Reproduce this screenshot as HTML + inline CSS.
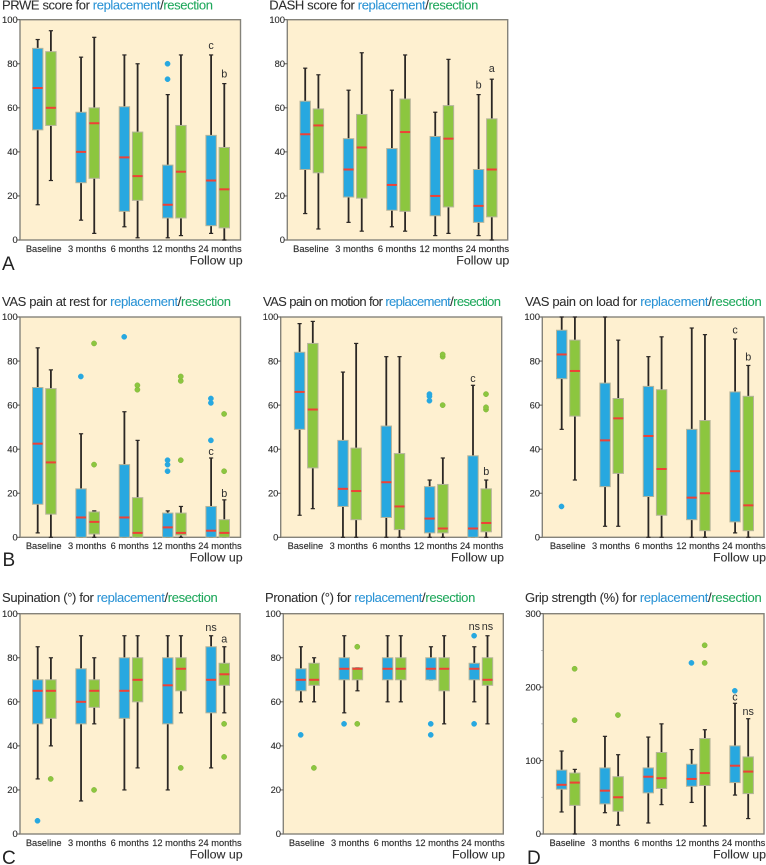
<!DOCTYPE html>
<html lang="en">
<head>
<meta charset="utf-8">
<title>Outcome scores for replacement and resection</title>
<style>
html,body{margin:0;padding:0;background:#fff;width:766px;height:865px;overflow:hidden}
svg{display:block}
text{font-family:"Liberation Sans",Arial,sans-serif;fill:#2e2e2e}
.title{font-size:13px;stroke:#2e2e2e;stroke-width:0.08px}
.rep{fill:#2a93d5;stroke:#2a93d5}
.res{fill:#1fa85c;stroke:#1fa85c}
.follow{font-size:12.4px;text-anchor:end;stroke:#2e2e2e;stroke-width:0.1px}
.letter{font-size:19px;fill:#222}
.tick{font-size:9.4px;text-anchor:end;stroke:#2e2e2e;stroke-width:0.12px}
.cat{font-size:9.3px;text-anchor:middle;stroke:#2e2e2e;stroke-width:0.15px}
.note{font-size:10.8px;text-anchor:middle}
</style>
</head>
<body>
<svg id="figure" xmlns="http://www.w3.org/2000/svg" width="766" height="865" viewBox="0 0 766 865">
  <text class="title" x="2" y="9.5" textLength="211">PRWE score for <tspan class="rep">replacement</tspan>/<tspan class="res">resection</tspan></text>
  <text class="title" x="269.3" y="9.5" textLength="209">DASH score for <tspan class="rep">replacement</tspan>/<tspan class="res">resection</tspan></text>
  <text class="title" x="2" y="306" textLength="229">VAS pain at rest for <tspan class="rep">replacement</tspan>/<tspan class="res">resection</tspan></text>
  <text class="title" x="263" y="306" textLength="238">VAS pain on motion for <tspan class="rep">replacement</tspan>/<tspan class="res">resection</tspan></text>
  <text class="title" x="525" y="306" textLength="236.7">VAS pain on load for <tspan class="rep">replacement</tspan>/<tspan class="res">resection</tspan></text>
  <text class="title" x="2" y="602" textLength="215.7">Supination (°) for <tspan class="rep">replacement</tspan>/<tspan class="res">resection</tspan></text>
  <text class="title" x="265" y="602" textLength="210.3">Pronation (°) for <tspan class="rep">replacement</tspan>/<tspan class="res">resection</tspan></text>
  <text class="title" x="525" y="602" textLength="236.7">Grip strength (%) for <tspan class="rep">replacement</tspan>/<tspan class="res">resection</tspan></text>

  <text class="follow" x="242.7" y="264.5">Follow up</text>
  <text class="follow" x="509.3" y="264.5">Follow up</text>
  <text class="follow" x="242.7" y="561.5">Follow up</text>
  <text class="follow" x="504" y="561.5">Follow up</text>
  <text class="follow" x="766" y="561.5">Follow up</text>
  <text class="follow" x="242.7" y="858.5">Follow up</text>
  <text class="follow" x="505" y="858.5">Follow up</text>
  <text class="follow" x="766" y="858.5">Follow up</text>

  <text class="letter" x="2" y="270">A</text>
  <text class="letter" x="2.5" y="566">B</text>
  <text class="letter" x="2" y="864">C</text>
  <text class="letter" x="527" y="864">D</text>
</svg>
<script>
// Shared axis labels
var categories = ['Baseline', '3 months', '6 months', '12 months', '24 months'];
var percentTicks = [0, 20, 40, 60, 80, 100];
var gripTicks = [0, 100, 200, 300];
var gripMinorTicks = [50, 150, 250];

// Each row: [whisker low, Q1, median, Q3, whisker high], one row per follow-up
var prweReplacement = [[16,50,69,87,91],[9,26,40,58,83],[6,13,37.5,60.5,84],[1,10,16,34,66],[3,6.5,27,47.5,84]];
var prweResection = [[27,52,60,85.5,95],[3,28,53,60,92],[1,18,29,49,80],[2,10,31,52,84],[0,5.5,23,42,71]];
var prweReplacementOutliers = [[],[],[],[73,80],[]];
var prweResectionOutliers = [[],[],[],[],[]];
var prweNotes = [[4,0,86.8,'c'],[4,1,73.8,'b']];

var dashReplacement = [[12,32,48,63,78],[8,19.5,32,46,68],[6,13.5,25,41.5,68],[2,11,20,47,58],[2,8,15.5,32,66]];
var dashResection = [[5,30.5,52,59.5,75],[4,19,42,57,85],[4,13,49,64,84],[3,15,46,61,82],[0,10.5,32,55,73]];
var dashReplacementOutliers = [[],[],[],[],[]];
var dashResectionOutliers = [[],[],[],[],[]];
var dashNotes = [[4,0,68.8,'b'],[4,1,76.3,'a']];

var restReplacement = [[2,15,42.5,68,86],[0,0,9,22,47],[0,0,9,33,57],[0,0,4.5,11,12],[0,0,3,14,36]];
var restResection = [[0,10.5,34,67.5,76],[0,1.5,7,11.5,12],[0,0,2,18,44],[0,1,2,11,14],[0,0,2,8,17]];
var restReplacementOutliers = [[],[73],[91],[30,33,35],[44,61,63]];
var restResectionOutliers = [[],[33,88],[67,69],[35,71,73],[30,56]];
var restNotes = [[4,0,37.3,'c'],[4,1,18.3,'b']];

var motionReplacement = [[10,49,66,84,97],[0,14,22,44,75],[0,9,25,50.5,82],[0,2,8.5,23,26],[0,0,4,37,69]];
var motionResection = [[13,31.5,58,88,98],[0,8,21,40.5,88],[0,3.5,14,38,82],[0,2,4,24,36],[0,2.5,6.5,22,26]];
var motionReplacementOutliers = [[],[],[],[62,64,65],[]];
var motionResectionOutliers = [[],[],[],[60,82,83],[58,59,65]];
var motionNotes = [[4,0,70.6,'c'],[4,1,28.3,'b']];

var loadReplacement = [[49,72,83,94,100],[5,23,44,70,100],[0,18.5,46,68.5,82],[0,8,18,49,95],[2,7,30,66,90]];
var loadResection = [[26,55,75.5,89.5,100],[5,29,54,63,89.5],[0,10,31,67,91],[0,3,20,53,92],[0,3,14.5,64,78]];
var loadReplacementOutliers = [[14],[],[],[],[]];
var loadResectionOutliers = [[],[],[],[],[]];
var loadNotes = [[4,0,92.6,'c'],[4,1,80.3,'b']];

var supinationReplacement = [[25,50,65,70,85],[15,50,60,75,90],[20,52.5,65,80,90],[20,50,67.5,80,90],[30,55,70,85,90]];
var supinationResection = [[40,52.5,65,70,80],[50,57.5,65,70,80],[30,60,70,80,90],[55,65,75,80,90],[55,67.5,72.5,77.5,85]];
var supinationReplacementOutliers = [[6],[],[],[],[]];
var supinationResectionOutliers = [[25],[20],[],[30],[35,50]];
var supinationNotes = [[4,0,92.2,'ns'],[4,1,86.9,'a']];

var pronationReplacement = [[60,65,70,75,85],[55,70,75,80,90],[60,70,75,80,90],[70,70,75,80,85],[60,70,75,77.5,85]];
var pronationResection = [[60,67.5,70,77.5,80],[65,70,75,75.5,75.5],[60,70,75,80,90],[50,65,75,80,90],[50,67.5,70,80,90]];
var pronationReplacementOutliers = [[45],[50],[],[45,50],[50,90]];
var pronationResectionOutliers = [[30],[50,85],[],[],[]];
var pronationNotes = [[4,0,92.6,'ns'],[4,1,92.6,'ns']];

var gripReplacement = [[30,61,67,87,113],[29,41,59,90,133],[15,56,78,90,132],[43,65,75,95,115],[53,70,93,120,178]];
var gripResection = [[0,39,70,83,88],[12,31,50,78,108],[40,62,76,111,150],[11,66,83,130,142],[21,55,85,105,157]];
var gripReplacementOutliers = [[],[],[],[233],[195]];
var gripResectionOutliers = [[155,225],[162],[],[233,257],[]];
var gripNotes = [[4,0,181.8,'c'],[4,1,161.8,'ns']];

var SVG_NS = 'http://www.w3.org/2000/svg';
var figure = document.getElementById('figure');

function make(parent, tag, attrs, content) {
  var el = document.createElementNS(SVG_NS, tag);
  for (var key in attrs) { el.setAttribute(key, attrs[key]); }
  if (content !== undefined) { el.textContent = content; }
  parent.appendChild(el);
  return el;
}

function drawPanel(p) {
  var height = p.bottom - p.top;
  var yScale = function (v) { return p.bottom - (v / p.max) * height; };
  var groupX = function (g) { return p.left + p.first + g * 43.35; };
  var seriesX = function (g, s) { return groupX(g) + (s === 0 ? -6.6 : 6.6); };
  var labelX = function (g) {
    return p.left + 23.7 + p.labelShift + g * 43.4 + (g === 2 ? -0.8 : 0) + (g === 4 ? 2.7 : 0);
  };

  var group = make(figure, 'g', {});
  
  

  var frame = make(group, 'rect', { x: p.left, y: p.top, width: p.right - p.left, height: height, fill: '#fef0d0', stroke: '#85837a', 'stroke-width': 1.4 });
  
  

  p.ticks.forEach(function (t) {
    var mark = make(group, 'line', { x1: p.left - 3, x2: p.left, y1: yScale(t), y2: yScale(t), stroke: '#5c5a54', 'stroke-width': 1 });
    
    
    var label = make(group, 'text', { class: 'tick', x: p.left - 2.3, y: yScale(t) + 3.2 }, t);
    
    
  });
  (p.minorTicks || []).forEach(function (t) {
    var minor = make(group, 'line', { x1: p.left - 2, x2: p.left, y1: yScale(t), y2: yScale(t), stroke: '#999', 'stroke-width': 0.8 });
    
    
  });

  categories.forEach(function (c, g) {
    var cat = make(group, 'text', { class: 'cat', x: labelX(g), y: p.bottom + 11.8 }, c);
    
    
  });

  [[p.replacement, p.replacementOutliers, '#27a8e0', '#27a8e0'],
   [p.resection, p.resectionOutliers, '#8cc63f', '#7fb23a']].forEach(function (series, s) {
    series[0].forEach(function (st, g) {
      var x = seriesX(g, s);
      var whisker = make(group, 'line', { x1: x, x2: x, y1: yScale(st[0]), y2: yScale(st[4]), stroke: '#2b2724', 'stroke-width': 1.8 });
      
      
      [st[0], st[4]].forEach(function (v) {
        var cap = make(group, 'line', { x1: x - 2.1, x2: x + 2.1, y1: yScale(v), y2: yScale(v), stroke: '#2b2724', 'stroke-width': 1.2 });
        
        
      });
      var box = make(group, 'rect', { x: x - 5.2, y: yScale(st[3]), width: 10.4, height: yScale(st[1]) - yScale(st[3]), fill: series[2], stroke: '#b5b49a', 'stroke-width': 1 });
      
      
      var median = make(group, 'line', { x1: x - 5, x2: x + 5, y1: yScale(st[2]), y2: yScale(st[2]), stroke: '#ef4136', 'stroke-width': 2 });
      
      
      series[1][g].forEach(function (v) {
        var dot = make(group, 'circle', { cx: x - 0.2, cy: yScale(v), r: 2.6, fill: series[2], stroke: series[3], 'stroke-width': 0.5 });
        
        
      });
    });
  });

  p.notes.forEach(function (n) {
    var note = make(group, 'text', { class: 'note', x: seriesX(n[0], n[1]), y: yScale(n[2]) }, n[3]);
    
    
  });
}

drawPanel({ name: 'prwe', left: 20, right: 240.5, top: 19.7, bottom: 240, first: 24.3, labelShift: 0, max: 100, ticks: percentTicks,
  replacement: prweReplacement, resection: prweResection, replacementOutliers: prweReplacementOutliers, resectionOutliers: prweResectionOutliers, notes: prweNotes });
drawPanel({ name: 'dash', left: 287.3, right: 507.7, top: 19.7, bottom: 240, first: 24.5, labelShift: 0, max: 100, ticks: percentTicks,
  replacement: dashReplacement, resection: dashResection, replacementOutliers: dashReplacementOutliers, resectionOutliers: dashResectionOutliers, notes: dashNotes });
drawPanel({ name: 'vas-rest', left: 20, right: 240.5, top: 317, bottom: 537.3, first: 24.3, labelShift: 0, max: 100, ticks: percentTicks,
  replacement: restReplacement, resection: restResection, replacementOutliers: restReplacementOutliers, resectionOutliers: restResectionOutliers, notes: restNotes });
drawPanel({ name: 'vas-motion', left: 280.7, right: 501.7, top: 317, bottom: 537.3, first: 25.5, labelShift: 1, max: 100, ticks: percentTicks,
  replacement: motionReplacement, resection: motionResection, replacementOutliers: motionReplacementOutliers, resectionOutliers: motionResectionOutliers, notes: motionNotes });
drawPanel({ name: 'vas-load', left: 542.3, right: 764, top: 317, bottom: 537.3, first: 26, labelShift: 1.7, max: 100, ticks: percentTicks,
  replacement: loadReplacement, resection: loadResection, replacementOutliers: loadReplacementOutliers, resectionOutliers: loadResectionOutliers, notes: loadNotes });
drawPanel({ name: 'supination', left: 20, right: 240, top: 613.7, bottom: 834, first: 24.3, labelShift: 0, max: 100, ticks: percentTicks,
  replacement: supinationReplacement, resection: supinationResection, replacementOutliers: supinationReplacementOutliers, resectionOutliers: supinationResectionOutliers, notes: supinationNotes });
drawPanel({ name: 'pronation', left: 283.3, right: 503.3, top: 613.7, bottom: 834, first: 24.2, labelShift: -0.3, max: 100, ticks: percentTicks,
  replacement: pronationReplacement, resection: pronationResection, replacementOutliers: pronationReplacementOutliers, resectionOutliers: pronationResectionOutliers, notes: pronationNotes });
drawPanel({ name: 'grip', left: 543.3, right: 764, top: 613.7, bottom: 834, first: 24.9, labelShift: 0.3, max: 300, ticks: gripTicks, minorTicks: gripMinorTicks,
  replacement: gripReplacement, resection: gripResection, replacementOutliers: gripReplacementOutliers, resectionOutliers: gripResectionOutliers, notes: gripNotes });
</script>
</body>
</html>
